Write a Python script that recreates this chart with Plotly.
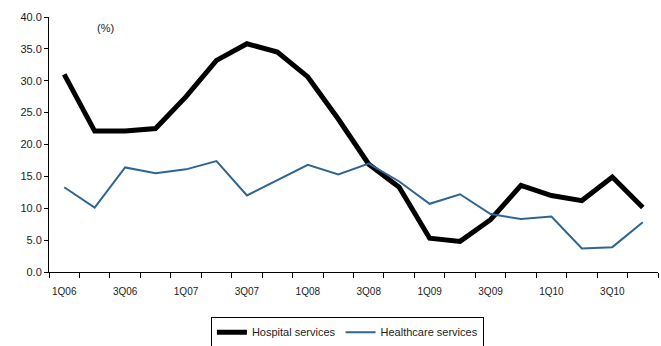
import plotly.graph_objects as go

quarters = ["1Q06","2Q06","3Q06","4Q06","1Q07","2Q07","3Q07","4Q07",
            "1Q08","2Q08","3Q08","4Q08","1Q09","2Q09","3Q09","4Q09",
            "1Q10","2Q10","3Q10","4Q10"]
hospital = [31.0, 22.1, 22.1, 22.5, 27.5, 33.2, 35.8, 34.5, 30.6, 24.0,
            16.9, 13.3, 5.3, 4.8, 8.2, 13.6, 12.0, 11.2, 14.9, 10.1]
healthcare = [13.3, 10.1, 16.4, 15.5, 16.1, 17.4, 12.0, 14.4, 16.8, 15.3,
              17.0, 14.2, 10.7, 12.2, 9.1, 8.3, 8.7, 3.7, 3.9, 7.8]
yticks = [0, 5, 10, 15, 20, 25, 30, 35, 40]

idx = list(range(len(quarters)))
fig = go.Figure()
fig.add_trace(go.Scatter(x=idx, y=hospital, mode="lines", name="Hospital services",
                         line=dict(color="black", width=5)))
fig.add_trace(go.Scatter(x=idx, y=healthcare, mode="lines", name="Healthcare services",
                         line=dict(color="#2f6593", width=2)))

fig.update_layout(
    width=661, height=346,
    margin=dict(l=49, r=3, t=17, b=74, autoexpand=False),
    plot_bgcolor="white", paper_bgcolor="white",
    font=dict(family="Liberation Sans, Arial", size=11, color="#222"),
    showlegend=True,
    legend=dict(orientation="h", x=0.49, xanchor="center", y=-0.175, yanchor="top",
                bordercolor="black", borderwidth=1, font=dict(size=11),
                itemwidth=30, tracegroupgap=0),
    annotations=[dict(text="(%)", x=0.093, xref="paper", y=38.3, yref="y",
                      showarrow=False, font=dict(size=11), xanchor="center")],
)
fig.update_xaxes(
    range=[-0.5, len(quarters) - 0.5], automargin=False,
    tickmode="array", tickvals=idx[::2], ticktext=quarters[::2],
    ticks="", showgrid=False, zeroline=False,
    showline=True, linecolor="black", linewidth=1,
    tickfont=dict(size=10), ticklabelstandoff=10,
    minor=dict(tickmode="linear", tick0=-0.5, dtick=1, ticks="outside",
               ticklen=5, tickcolor="black", showgrid=False),
)
fig.update_yaxes(
    range=[0, 40], tickmode="array", tickvals=yticks, automargin=False,
    ticktext=[f"{v:.1f}" for v in yticks],
    ticks="outside", ticklen=4, tickcolor="black",
    showgrid=False, zeroline=False,
    showline=True, linecolor="black", linewidth=1,
    tickfont=dict(size=11),
)
fig.write_html("out.html")
